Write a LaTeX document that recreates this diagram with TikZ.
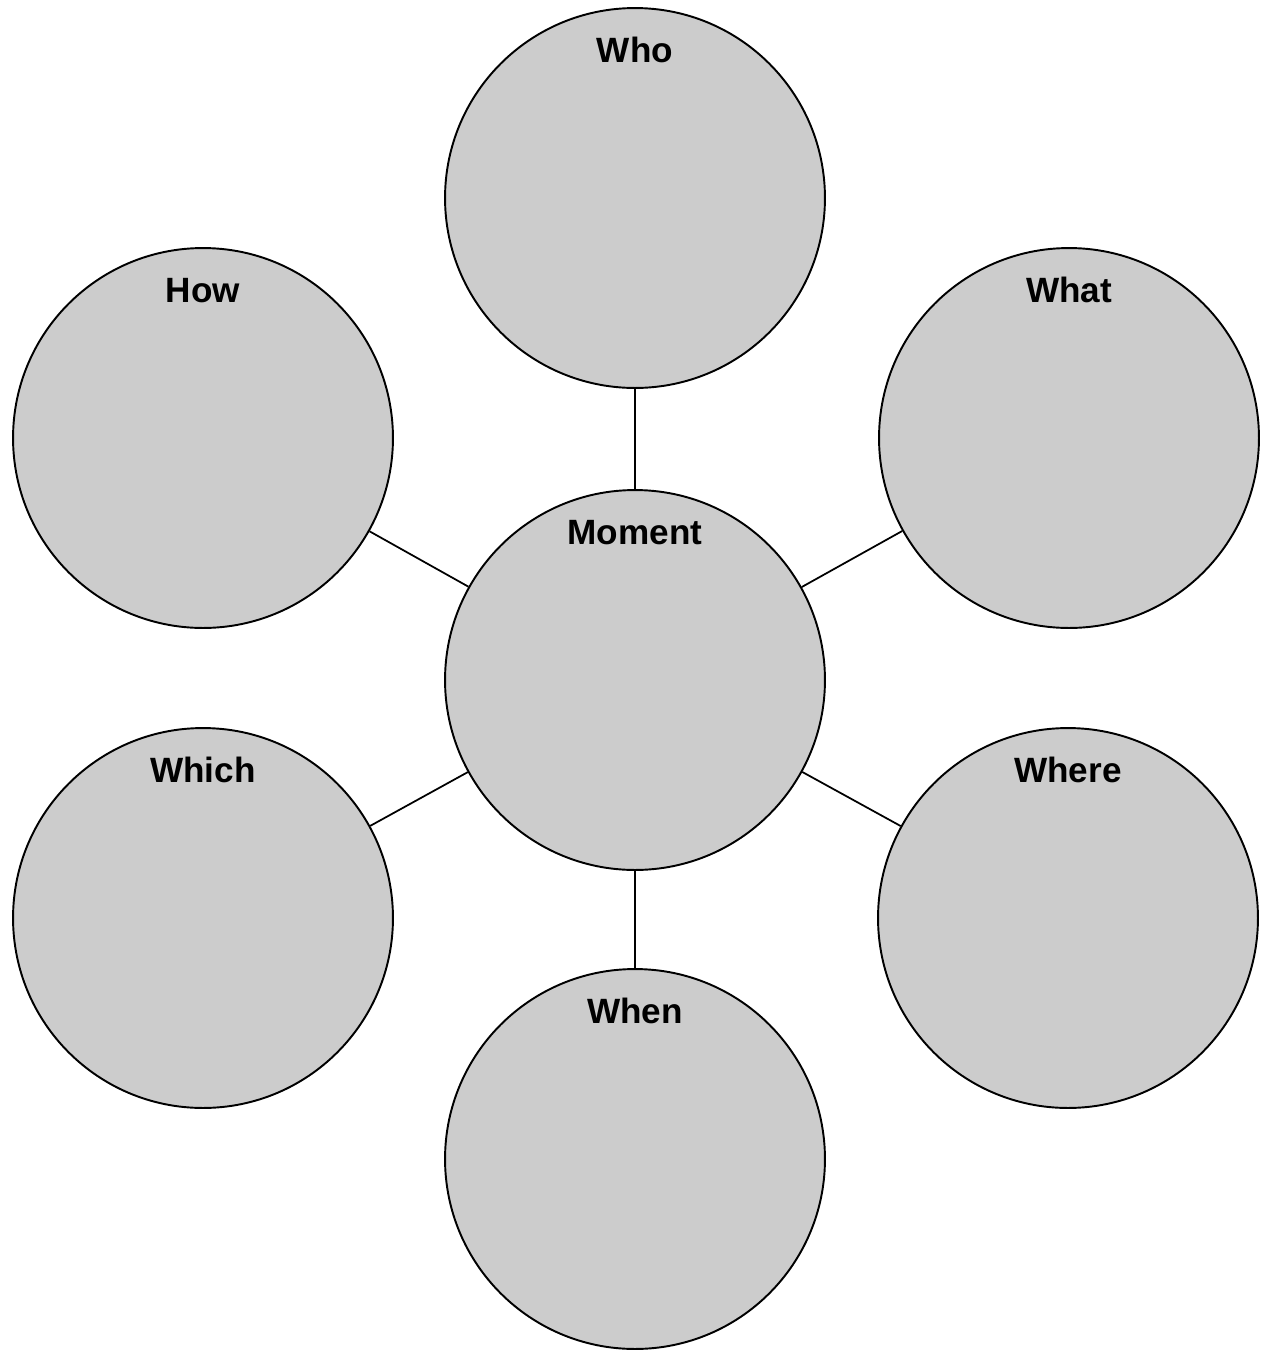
\documentclass[tikz,border=0pt]{standalone}
\usepackage{fontspec}
\setmainfont{Liberation Sans}
\usetikzlibrary{positioning}

\begin{document}
\begin{tikzpicture}[
    x=0.02cm, y=-0.02cm,
    topic/.style={draw, circle, fill=black!20, line width=1.1pt, minimum size=7.6cm, inner sep=0pt},
    tag/.style={anchor=base, yshift=-1.1cm, font=\bfseries\fontsize{20}{24}\selectfont},
    link/.style={line width=1pt}
]
    \useasboundingbox (0,0) rectangle (1262,1350);
    \node[topic, label={[tag]90:Moment}] at (635,680) (moment) {};
    \node[topic, label={[tag]90:Who}] at (635,198) (who) {};
    \node[topic, label={[tag]90:How}] at (203,438) (how) {};
    \node[topic, label={[tag]90:What}] at (1069,438) (what) {};
    \node[topic, label={[tag]90:Which}] at (203,918) (which) {};
    \node[topic, label={[tag]90:Where}] at (1068,918) (where) {};
    \node[topic, label={[tag]90:When}] at (635,1159) (when) {};
    \draw[link] (moment) -- (who);
    \draw[link] (moment) -- (how);
    \draw[link] (moment) -- (what);
    \draw[link] (moment) -- (which);
    \draw[link] (moment) -- (where);
    \draw[link] (moment) -- (when);
\end{tikzpicture}
\end{document}
